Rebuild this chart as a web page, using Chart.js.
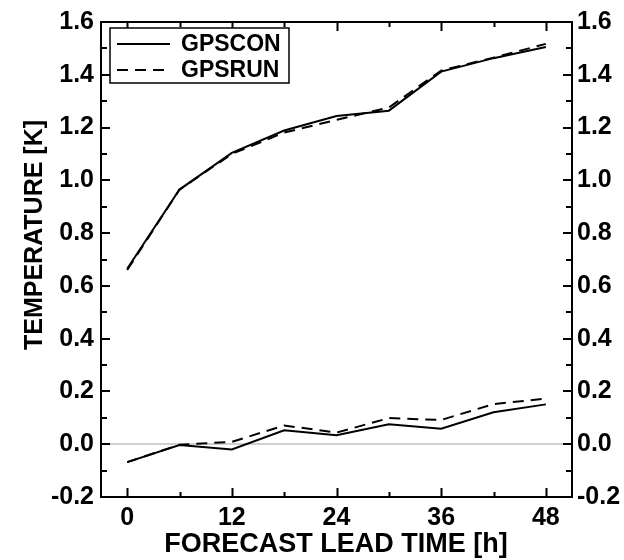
<!DOCTYPE html>
<html>
<head>
<meta charset="utf-8">
<script src="https://cdn.jsdelivr.net/npm/chart.js@4"></script>
<style>
    html, body { margin: 0; padding: 0; background: #fff; }
    #wrap { width: 624px; height: 560px; }
</style>
</head>
<body>
<div id="wrap"><canvas id="chart" width="624" height="560"></canvas></div>
<script>
// forecast lead times [h]
const leadTimes = [0, 6, 12, 18, 24, 30, 36, 42, 48];

// upper curves
const gpsconUpper = [0.665, 0.965, 1.104, 1.189, 1.244, 1.264, 1.412, 1.463, 1.505];
const gpsrunUpper = [0.660, 0.965, 1.100, 1.181, 1.229, 1.276, 1.416, 1.465, 1.517];

// lower curves
const gpsconLower = [-0.068, -0.003, -0.020, 0.053, 0.034, 0.076, 0.059, 0.121, 0.151];
const gpsrunLower = [-0.068, -0.002, 0.009, 0.071, 0.044, 0.099, 0.092, 0.152, 0.173];

const seriesNames = ['GPSCON', 'GPSRUN'];
const xTickLabels = [0, 12, 24, 36, 48];
const yTickLabels = [-0.2, 0.0, 0.2, 0.4, 0.6, 0.8, 1.0, 1.2, 1.4, 1.6];
const xTitle = 'FORECAST LEAD TIME [h]';
const yTitle = 'TEMPERATURE [K]';

const FONT = '"Liberation Sans", Arial, Helvetica, sans-serif';
const DASH = [11, 7];

function toPoints(values) {
    return leadTimes.map((t, i) => ({ x: t, y: values[i] }));
}

function lineSet(label, values, dashed, inLegend) {
    return {
        label: label,
        data: toPoints(values),
        borderColor: '#000',
        borderWidth: 2,
        borderDash: dashed ? DASH : [],
        pointRadius: 0,
        tension: 0,
        fill: false,
        inLegend: inLegend
    };
}

// frame, inward ticks, axis titles and the boxed legend
const framePlugin = {
    id: 'frame',
    afterDatasetsDraw(chart) {
        const ctx = chart.ctx;
        const area = chart.chartArea;
        const xs = chart.scales.x;
        const ys = chart.scales.y;
        ctx.save();
        ctx.strokeStyle = '#000';
        ctx.lineWidth = 2;
        ctx.setLineDash([]);

        // x ticks, bottom and top
        for (let v = 0; v <= 48; v += 6) {
            const px = Math.round(xs.getPixelForValue(v)) + 0.5;
            const len = v % 12 === 0 ? 9 : 5;
            ctx.beginPath();
            ctx.moveTo(px, area.bottom);
            ctx.lineTo(px, area.bottom - len);
            ctx.moveTo(px, area.top);
            ctx.lineTo(px, area.top + len);
            ctx.stroke();
        }
        // y ticks, left and right
        for (let i = -2; i <= 16; i++) {
            const py = Math.round(ys.getPixelForValue(i / 10));
            const len = i % 2 === 0 ? 9 : 6;
            ctx.beginPath();
            ctx.moveTo(area.left, py);
            ctx.lineTo(area.left + len, py);
            ctx.moveTo(area.right, py);
            ctx.lineTo(area.right - len, py);
            ctx.stroke();
        }
        ctx.strokeRect(area.left, area.top, area.right - area.left, area.bottom - area.top);

        // axis titles
        ctx.fillStyle = '#000';
        ctx.font = 'bold 27px ' + FONT;
        ctx.textAlign = 'center';
        ctx.textBaseline = 'alphabetic';
        ctx.fillText(xTitle, 336, 552);

        ctx.save();
        ctx.translate(42, 235);
        ctx.rotate(-Math.PI / 2);
        ctx.font = 'bold 25px ' + FONT;
        ctx.fillText(yTitle, 0, 0);
        ctx.restore();

        // legend
        const lx = 110, ly = 28, lw = 179, lh = 55;
        ctx.fillStyle = '#fff';
        ctx.fillRect(lx, ly, lw, lh);
        ctx.lineWidth = 1.5;
        ctx.strokeRect(lx, ly, lw, lh);
        const items = chart.data.datasets.filter(d => d.inLegend);
        ctx.font = 'bold 23px ' + FONT;
        ctx.textAlign = 'left';
        ctx.textBaseline = 'middle';
        items.forEach((d, i) => {
            const y = ly + 16 + i * 26;
            ctx.lineWidth = 2;
            ctx.setLineDash(d.borderDash);
            ctx.beginPath();
            ctx.moveTo(117, y);
            ctx.lineTo(170, y);
            ctx.stroke();
            ctx.setLineDash([]);
            ctx.fillStyle = '#000';
            ctx.fillText(d.label, 181, y + 1);
        });
        ctx.restore();
    }
};

const tickFont = { family: FONT, weight: 'bold', size: 25 };

new Chart(document.getElementById('chart'), {
    type: 'line',
    data: {
        datasets: [
            lineSet(seriesNames[0], gpsconUpper, false, true),
            lineSet(seriesNames[1], gpsrunUpper, true, true),
            lineSet(seriesNames[0], gpsconLower, false, false),
            lineSet(seriesNames[1], gpsrunLower, true, false)
        ]
    },
    options: {
        responsive: false,
        animation: false,
        layout: { padding: { top: 14, left: 0, right: 0, bottom: 0 } },
        plugins: {
            legend: { display: false },
            tooltip: { enabled: false }
        },
        scales: {
            x: {
                type: 'linear',
                position: 'bottom',
                min: -3,
                max: 51,
                afterBuildTicks: s => { s.ticks = xTickLabels.map(v => ({ value: v })); },
                afterFit: s => { s.height = 63; },
                border: { display: false },
                grid: { display: false, drawTicks: false },
                ticks: { color: '#000', font: tickFont, padding: 6, maxRotation: 0 }
            },
            y: {
                type: 'linear',
                position: 'left',
                min: -0.2,
                max: 1.6,
                afterBuildTicks: s => { s.ticks = yTickLabels.map(v => ({ value: v })); },
                afterFit: s => { s.width = 101; },
                border: { display: false },
                grid: {
                    drawTicks: false,
                    lineWidth: 2,
                    color: c => (c.tick && c.tick.value === 0 ? '#cfcfcf' : 'rgba(0,0,0,0)')
                },
                ticks: { color: '#000', font: tickFont, padding: 7, callback: v => v.toFixed(1) }
            },
            y2: {
                type: 'linear',
                position: 'right',
                min: -0.2,
                max: 1.6,
                afterBuildTicks: s => { s.ticks = yTickLabels.map(v => ({ value: v })); },
                afterFit: s => { s.width = 52; },
                border: { display: false },
                grid: { display: false, drawTicks: false },
                ticks: { color: '#000', font: tickFont, padding: 5, callback: v => v.toFixed(1) }
            }
        }
    },
    plugins: [framePlugin]
});
</script>
</body>
</html>
